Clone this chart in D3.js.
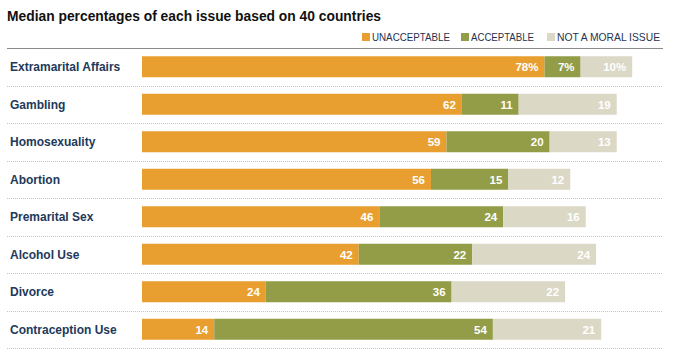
<!DOCTYPE html>
<html><head><meta charset="utf-8">
<script src="https://cdn.jsdelivr.net/npm/d3@7"></script>
<style>body{margin:0;background:#fff}svg{display:block}</style>
</head><body>
<script>
const categories=["Extramarital Affairs","Gambling","Homosexuality","Abortion","Premarital Sex","Alcohol Use","Divorce","Contraception Use"];
const unacceptable=[78,62,59,56,46,42,24,14];
const acceptable=[7,11,20,15,24,22,36,54];
const notMoral=[10,19,13,12,16,24,22,21];
const seriesNames=["UNACCEPTABLE","ACCEPTABLE","NOT A MORAL ISSUE"];
const colors=["#e99f2f","#939d48","#dcd8c6"];
const title="Median percentages of each issue based on 40 countries";

const W=675,H=361;
const svg=d3.select("body").append("svg").attr("width",W).attr("height",H);
const font="'Liberation Sans', Arial, sans-serif";

svg.append("text").attr("x",7).attr("y",21).text(title)
  .attr("font-family",font).attr("font-weight","bold").attr("font-size",15)
  .attr("textLength",374).attr("lengthAdjust","spacingAndGlyphs").attr("fill","#111");

const data=categories.map((c,i)=>({c,vals:[unacceptable[i],acceptable[i],notMoral[i]]}));
const x=d3.scaleLinear().domain([0,100]).range([142,658]);
const y=d3.scaleBand().domain(categories).range([48,348]).paddingInner(0.44).paddingOuter(0.22);

// top rule
svg.append("line").attr("x1",7).attr("x2",663).attr("y1",48.5).attr("y2",48.5).attr("stroke","#8a8a8a").attr("stroke-width",1.2);
// dotted separators
const step=y.step();
categories.forEach((c,i)=>{
  const yy=Math.round(y(c)+y.bandwidth()+ (step-y.bandwidth())/2)+0.5;
  svg.append("line").attr("x1",7).attr("x2",663).attr("y1",yy).attr("y2",yy)
    .attr("stroke","#c4c4c4").attr("stroke-width",1).attr("stroke-dasharray","1,1");
});

// legend
const legX=[362,461,547];
const legW=[78,63,103];
seriesNames.forEach((s,i)=>{
  svg.append("rect").attr("x",legX[i]).attr("y",33).attr("width",8).attr("height",8).attr("fill",colors[i]);
  svg.append("text").attr("x",legX[i]+10).attr("y",41).text(s)
    .attr("textLength",legW[i]).attr("lengthAdjust","spacingAndGlyphs")
    .attr("font-family",font).attr("font-size",10.5).attr("fill","#1f3350");
});

const g=svg.append("g");
data.forEach((d,i)=>{
  let cum=0;
  const yy=y(d.c);
  g.append("text").attr("x",10).attr("y",yy+y.bandwidth()/2+4.5).text(d.c)
    .attr("font-family",font).attr("font-weight","bold").attr("font-size",12).attr("fill","#22395a");
  d.vals.forEach((v,k)=>{
    const x0=x(cum),x1=x(cum+v);
    g.append("rect").attr("x",x0).attr("y",yy).attr("width",x1-x0).attr("height",y.bandwidth()).attr("fill",colors[k]);
    g.append("text").attr("x",x1-6).attr("y",yy+y.bandwidth()/2+4.5).attr("text-anchor","end")
      .text(i===0? v+"%": v)
      .attr("font-family",font).attr("font-weight","bold").attr("font-size",11.5).attr("fill","#fff");
    cum+=v;
  });
});
</script>
</body></html>
